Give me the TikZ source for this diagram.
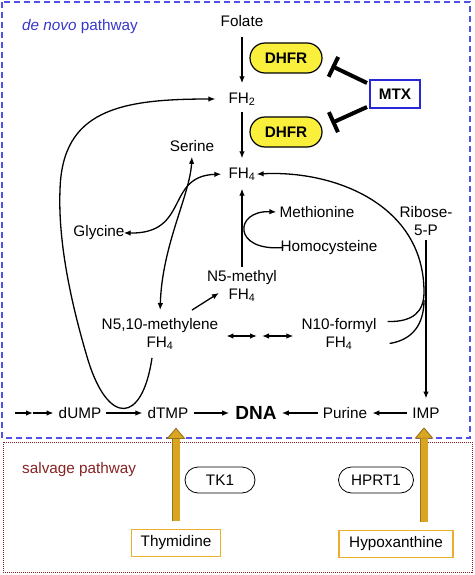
\documentclass[tikz,border=0pt]{standalone}
\usepackage{fontspec}
\setmainfont{Liberation Sans}
\usetikzlibrary{arrows.meta,calc}
\definecolor{boxblue}{RGB}{80,80,235}
\definecolor{txtblue}{RGB}{55,55,205}
\definecolor{mtxblue}{RGB}{40,40,215}
\definecolor{boxred}{RGB}{140,30,30}
\definecolor{txtred}{RGB}{135,35,35}
\definecolor{dhfryel}{RGB}{250,240,60}
\definecolor{goldfill}{RGB}{218,165,32}
\definecolor{golddark}{RGB}{150,115,30}
\definecolor{goldbox}{RGB}{235,175,45}
\begin{document}
\begin{tikzpicture}[x=1pt,y=-1pt,
  font=\fontsize{15.3}{18}\selectfont,
  lbl/.style={inner sep=3pt, align=center},
  arr/.style={line width=1.3pt, -{Latex[length=7pt,width=5.5pt]}},
  darr/.style={line width=1.3pt, {Latex[length=7pt,width=5.5pt]}-{Latex[length=7pt,width=5.5pt]}},
  plain/.style={line width=1.3pt},
  pill/.style={draw, rounded corners=13pt, minimum height=26pt, inner sep=3pt, line width=0.8pt},
  dhfrpill/.style={draw, fill=dhfryel, rounded corners=15pt, minimum width=72pt, minimum height=30pt, line width=1.2pt, font=\fontsize{15.3}{18}\selectfont\bfseries},
  goldsrc/.style={draw=goldbox, line width=1.8pt, minimum height=27pt, inner sep=3pt},
  inhib/.style={line width=4pt, -{Bar[width=22pt]}},
  goldarr/.style={line width=7pt, draw=goldfill,
     -{Triangle[width=18pt,length=11pt,line width=0.7pt,fill=goldfill,color=golddark]},
     preaction={draw=golddark, line width=8.4pt, -{Triangle[width=18pt,length=11pt]}}},
]
\useasboundingbox (0,0) rectangle (474,575);

% frames
\draw[boxblue, line width=1.4pt, dash pattern=on 6pt off 4pt] (2,2) rectangle (470,438);
\draw[boxred, line width=1pt, dash pattern=on 1pt off 1pt] (3,442) rectangle (472,572);
\node[anchor=west, text=txtblue, inner sep=0pt] (dn) at (22,27) {\textit{de novo} pathway};
\node[anchor=west, text=txtred, inner sep=0pt] (sv) at (22,470) {salvage pathway};

% nodes
\node[lbl] (folate) at (242,21) {Folate};
\node[lbl] (fh2) at (242,99) {FH\textsubscript{2}};
\node[lbl] (fh4) at (242,174) {FH\textsubscript{4}};
\node[dhfrpill] (dhfr1) at (286,58) {DHFR};
\node[dhfrpill] (dhfr2) at (286,132) {DHFR};
\node[draw=mtxblue, line width=2pt, minimum width=50pt, minimum height=28pt, font=\fontsize{15.3}{18}\selectfont\bfseries] (mtx) at (395,94) {MTX};
\node[lbl] (serine) at (192,146) {Serine};
\node[lbl] (glycine) at (99,233) {Glycine};
\node[lbl] (methionine) at (317,212) {Methionine};
\node[lbl] (homocys) at (329,248) {Homocysteine};
\node[lbl] (ribose) at (426,221) {Ribose-\\5-P};
\node[lbl] (n5m) at (242,286) {N5-methyl\\FH\textsubscript{4}};
\node[lbl] (meth) at (160,334) {N5,10-methylene\\FH\textsubscript{4}};
\node[lbl] (n10) at (339,334) {N10-formyl\\FH\textsubscript{4}};
\node[lbl] (dump) at (80,413) {dUMP};
\node[lbl] (dtmp) at (168,413) {dTMP};
\node[lbl, font=\fontsize{19}{22}\selectfont\bfseries] (dna) at (256,413) {DNA};
\node[lbl] (purine) at (345,413) {Purine};
\node[lbl] (imp) at (426,413) {IMP};
\node[pill, minimum width=70pt] (tk1) at (220,480) {TK1};
\node[pill, minimum width=75pt] (hprt1) at (376,480) {HPRT1};
\node[goldsrc, minimum width=89pt] (thy) at (176,543) {Thymidine};
\node[goldsrc, minimum width=114pt] (hyp) at (396,544) {Hypoxanthine};
\coordinate (c0) at (15,413);
\coordinate (c1) at (33,413);
\coordinate (dmid) at (259.5,336);

% folate chain
\draw[arr, shorten <=7pt, shorten >=6pt] (folate.south) -- (fh2.north);
\draw[arr, shorten <=3pt, shorten >=6pt] (fh2.south) -- (fh4.north);
\draw[arr, shorten >=5pt] (n5m.north) -- (fh4.south);

% inhibition
\draw[inhib] ($(mtx.west)+(-2,-11)$) -- ($(dhfr1.east)+(9,8)$);
\draw[inhib] ($(mtx.west)+(-2,13)$) -- ($(dhfr2.east)+(9,-9)$);

% methionine
\draw[arr, shorten <=-6pt] (homocys.west) .. controls (232,252) and (234,210) .. (methionine.west);

% serine / glycine crossing
\draw[darr, shorten <=4pt, shorten >=-4pt] (fh4.west) .. controls (165,176) and (190,234) .. (glycine.east);
\draw[darr, shorten <=2pt, shorten >=5pt] (serine.south) .. controls (190,195) and (162,245) .. (meth.north);

% methylene -> N5-methyl
\draw[arr] ($(meth.north)+(32,-5)$) -- ($(n5m.south west)+(15,-12)$);

% methylene <-> N10-formyl
\draw[darr, shorten <=5pt, shorten >=2.5pt] ($(meth.east)+(0,2)$) -- (dmid);
\draw[darr, shorten <=2.5pt, shorten >=5pt] (dmid) -- ($(n10.west)+(0,2)$);

% big arc N10-formyl -> FH4
\draw[arr, shorten >=-2pt] ($(n10.north east)+(8,6.5)$) .. controls (413,322) and (424,312) .. (424,292)
   .. controls (424,205) and (335,170) .. (fh4.east);
\draw[plain] ($(n10.south east)+(10,-9.5)$) .. controls (412,340) and (424,325) .. (424,300);

% ribose -> IMP
\draw[arr, shorten <=1pt, shorten >=6pt] (ribose.south) -- (ribose.south |- imp.north);

% big loop methylene -> FH2
\draw[arr, shorten >=10pt] ($(meth.south)+(-8,5)$) .. controls (142,425) and (108,425) .. (88,360)
   .. controls (70,300) and (58,240) .. (60,190) .. controls (62,110) and (120,99) .. (fh2.west);

% bottom row
\draw[arr] (c0) -- (c1);
\draw[arr, shorten >=2pt] (c1) -- (dump.west);
\draw[arr, shorten <=2pt, shorten >=2pt] (dump.east) -- (dtmp.west);
\draw[arr, shorten <=2pt, shorten >=3pt] (dtmp.east) -- (dna.west);
\draw[arr, shorten <=2pt, shorten >=2pt] (purine.west) -- (dna.east);
\draw[arr, shorten <=2pt, shorten >=2pt] (imp.west) -- (purine.east);

% salvage arrows
\draw[goldarr] ($(thy.north)+(0,-8)$) -- ($(thy.north |- dtmp.south)+(0,6)$);
\draw[goldarr] ($(imp.south |- hyp.north)+(-2,-8)$) -- ($(imp.south)+(-2,6)$);
\end{tikzpicture}
\end{document}
